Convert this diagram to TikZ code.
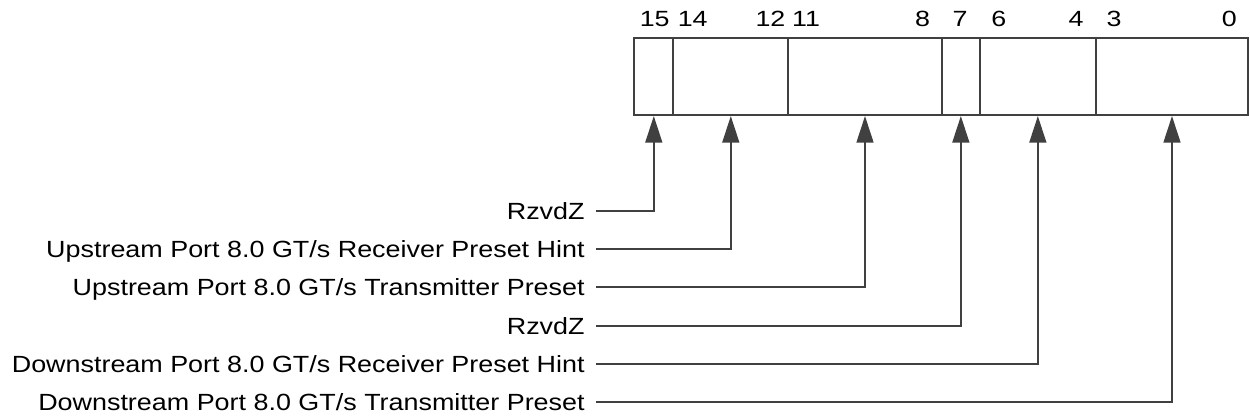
\documentclass[tikz,border=0pt]{standalone}
\usepackage{fontspec}
\setmainfont{Liberation Sans}[FakeStretch=1.22]
\newfontfamily\labelfont{Liberation Sans}[FakeStretch=1.15]
\usetikzlibrary{arrows.meta,positioning}
\definecolor{linegray}{HTML}{404040}

\begin{document}
\begin{tikzpicture}[
  x=0.5pt, y=-0.5pt,
  field/.style={
    draw=linegray,
    line width=1pt,
    minimum height=38.35pt,
    inner sep=0pt
  },
  bitnum/.style={anchor=base, inner sep=0pt, font=\fontsize{11}{13}\selectfont},
  fieldlabel/.style={
    anchor=east,
    inner xsep=5.5pt,
    inner ysep=0pt,
    text height=8.35pt,
    text depth=0pt,
    font=\labelfont\fontsize{11.7}{14}\selectfont
  },
  arrow/.style={-{Triangle[length=13.3pt, width=8.4pt]}, line width=1pt, draw=linegray}
]
\useasboundingbox (0,0) rectangle (1250,417);
% register fields
\node[field, minimum width=19.5pt] (f15) at (653.8,76.65) {};
\node[field, minimum width=57.5pt] (f14) at (730.8,76.65) {};
\node[field, minimum width=76.7pt] (f11) at (865,76.65) {};
\node[field, minimum width=19.15pt] (f7) at (960.85,76.65) {};
\node[field, minimum width=57.85pt] (f6) at (1037.85,76.65) {};
\node[field, minimum width=76.3pt] (f3) at (1172,76.65) {};
% bit numbers
\node[bitnum] (n15) at (654.7,26.7) {15};
\node[bitnum] (n14) at (692.7,26.7) {14};
\node[bitnum] (n12) at (770.5,26.7) {12};
\node[bitnum] (n11) at (806,26.7) {11};
\node[bitnum] (n8) at (922.7,26.7) {8};
\node[bitnum] (n7) at (960,26.7) {7};
\node[bitnum] (n6) at (998.8,26.7) {6};
\node[bitnum] (n4) at (1076,26.7) {4};
\node[bitnum] (n3) at (1114.2,26.7) {3};
\node[bitnum] (n0) at (1229.3,26.7) {0};
% field names
\node[fieldlabel] (rsvdhi) at (596,210.7) {RzvdZ};
\node[fieldlabel] (uprx) at (596,249.3) {Upstream Port 8.0 GT/s Receiver Preset Hint};
\node[fieldlabel] (uptx) at (596,287.5) {Upstream Port 8.0 GT/s Transmitter Preset};
\node[fieldlabel] (rsvdlo) at (596,325.7) {RzvdZ};
\node[fieldlabel] (downrx) at (596,364) {Downstream Port 8.0 GT/s Receiver Preset Hint};
\node[fieldlabel] (downtx) at (596,402.3) {Downstream Port 8.0 GT/s Transmitter Preset};
\draw[arrow] (rsvdhi.east) -| (f15.south);
\draw[arrow] (uprx.east) -| (f14.south);
\draw[arrow] (uptx.east) -| (f11.south);
\draw[arrow] (rsvdlo.east) -| (f7.south);
\draw[arrow] (downrx.east) -| (f6.south);
\draw[arrow] (downtx.east) -| (f3.south);
\end{tikzpicture}
\end{document}
